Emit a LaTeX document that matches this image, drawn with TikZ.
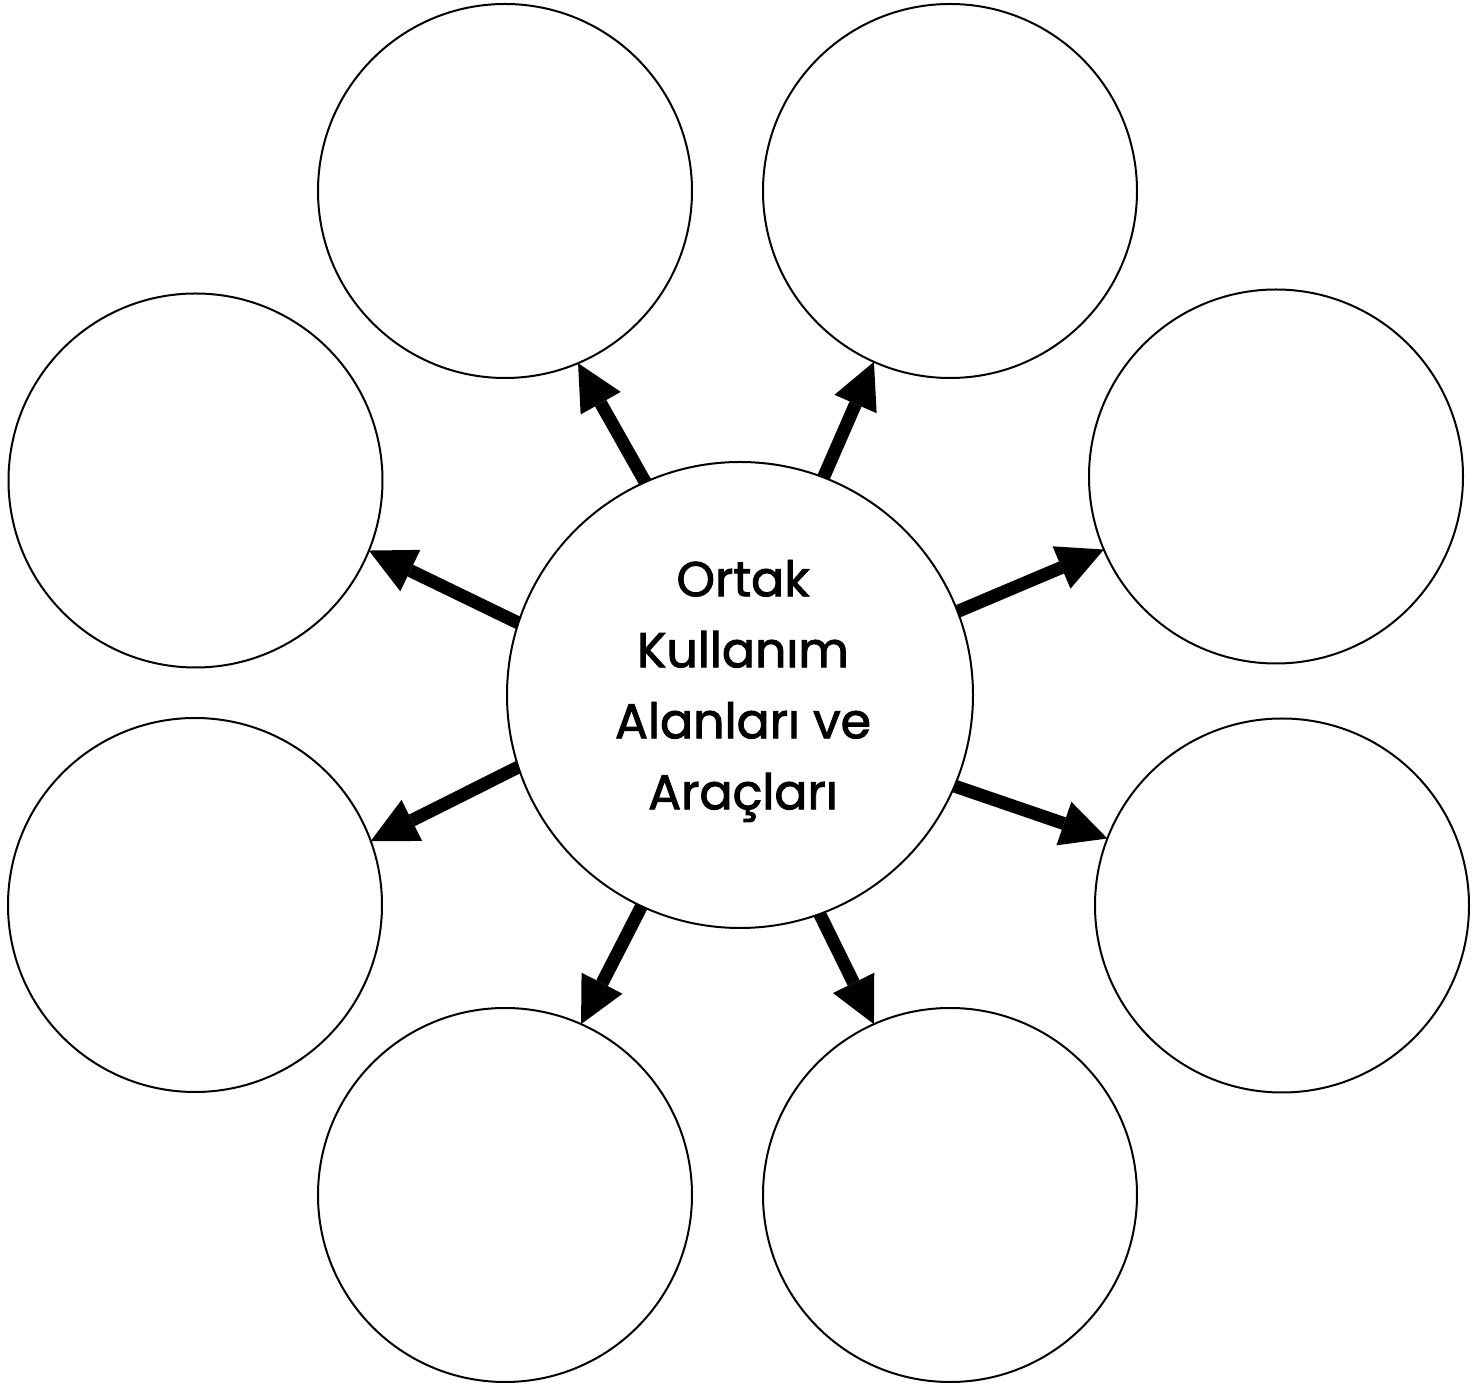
\documentclass[tikz,border=0pt]{standalone}
\usepackage{fontspec}
\setmainfont{Poppins}
\newfontfamily\lblfont{Poppins}[FakeBold=2]
\usetikzlibrary{arrows.meta}
\begin{document}
\begin{tikzpicture}[x=0.5pt,y=-0.5pt,
  bubble/.style={circle,draw,line width=1pt,inner sep=0pt,outer sep=0pt,minimum size=187pt},
  hub/.style={circle,draw,line width=1pt,inner sep=0pt,outer sep=0pt,minimum size=233pt},
  arr/.style={line width=6.5pt,-{Triangle[length=23pt,width=23pt,line width=0pt]}},
  lbl/.style={align=center,inner sep=0pt,font=\lblfont\fontsize{24.5}{35.5}\selectfont}]
\useasboundingbox (0,0) rectangle (1480,1384);
\node[hub] (c) at (740,695) {};
\node[lbl] (t) at (743,691) {Ortak\\Kullanım\\Alanları ve\\Araçları};
\node[bubble] (tl) at (505,191) {};
\node[bubble] (tr) at (950,191) {};
\node[bubble] (lu) at (195.5,480.5) {};
\node[bubble] (ru) at (1276,476.5) {};
\node[bubble] (ll) at (195,905) {};
\node[bubble] (rl) at (1282,905.5) {};
\node[bubble] (bl) at (505,1195) {};
\node[bubble] (br) at (950,1195) {};
\draw[arr] (c.114.2) -- (tl.293.1);
\draw[arr] (c.69.7) -- (tr.246.9);
\draw[arr] (c.162.1) -- (lu.338);
\draw[arr] (c.198.4) -- (ll.20.4);
\draw[arr] (c.21.6) -- (ru.203.6);
\draw[arr] (c.337.9) -- (rl.159.8);
\draw[arr] (c.245.5) -- (bl.66.7);
\draw[arr] (c.290.4) -- (br.114.2);
\end{tikzpicture}
\end{document}
